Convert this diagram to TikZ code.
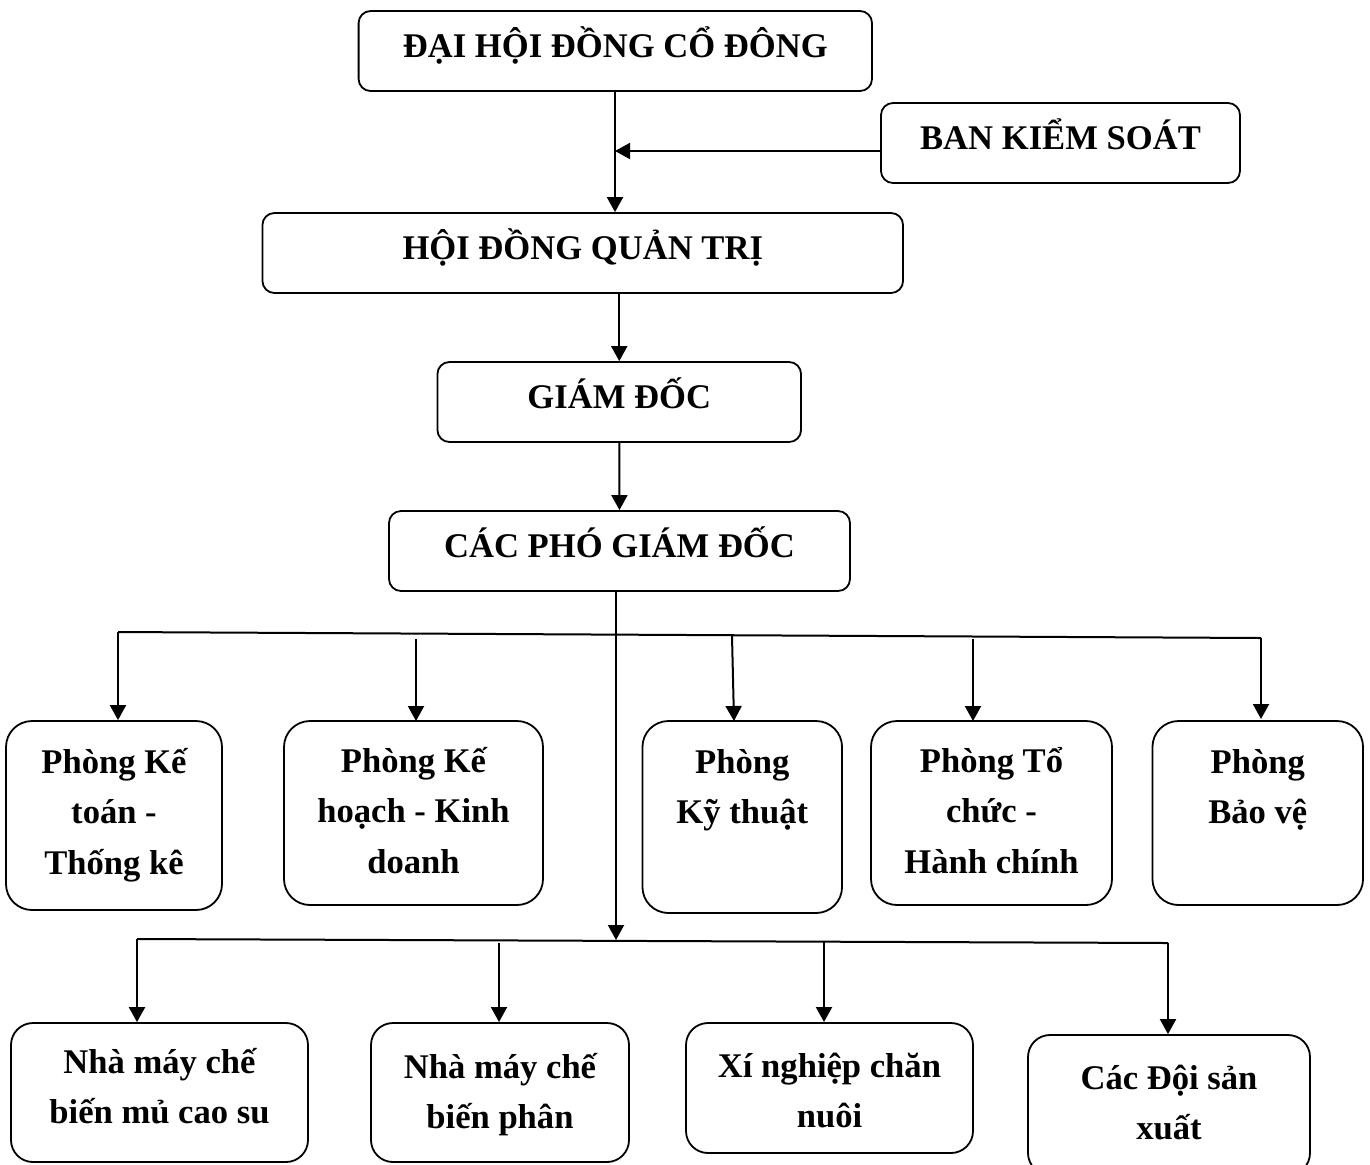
\documentclass[tikz,border=0pt]{standalone}
\usepackage{fontspec}
\setmainfont{Liberation Serif}
\usetikzlibrary{arrows.meta,positioning}

% struts that fix where the lines sit in a box
\newcommand\upstrut{\rule{0pt}{18pt}}
\newcommand\dnstrut[1]{\rule[-#1]{0pt}{#1}}

\begin{document}
\begin{tikzpicture}[x=0.5pt,y=-0.5pt,->,>={Triangle[length=7.5pt,width=8pt]},
                    line width=1pt]

  \tikzset{every node/.style={font=\fontsize{17.3}{25.25}\selectfont\bfseries,
                              inner sep=0pt,line width=0.9pt}}
  \tikzset{head/.style={draw,rounded corners=6pt,minimum height=40pt,
                        text height=11pt,text depth=4.5pt}}
  \tikzset{dept/.style={draw,rounded corners=13pt,align=center}}
  \tikzset{unit/.style={draw,rounded corners=11pt,align=center}}

  \useasboundingbox (0,0) rectangle (1370,1164);
  \clip (0,0) rectangle (1370,1164);

  % top of the chart
  \node[head,minimum width=256.7pt] (DHCD) at (615.3,51)   {ĐẠI HỘI ĐỒNG CỔ ĐÔNG};
  \node[head,minimum width=179.5pt] (BKS)  at (1060.5,143) {BAN KIỂM SOÁT};
  \node[head,minimum width=320.3pt] (HDQT) at (582.75,253) {HỘI ĐỒNG QUẢN TRỊ};
  \node[head,minimum width=181.8pt] (GD)   at (619.25,402) {GIÁM ĐỐC};
  \node[head,minimum width=230.5pt] (PGD)  at (619.5,551)  {CÁC PHÓ GIÁM ĐỐC};

  % phong ban
  \node[dept,minimum width=108pt,  minimum height=94.5pt] (PKT) at (114,815.5)
       {\upstrut Phòng Kế\\toán -\\Thống kê\dnstrut{10pt}};
  \node[dept,minimum width=129.5pt,minimum height=92pt]   (PKH) at (413.5,813)
       {\upstrut Phòng Kế\\hoạch - Kinh\\doanh\dnstrut{8.5pt}};
  \node[dept,minimum width=99.8pt, minimum height=96pt]   (PKY) at (742.25,817)
       {\upstrut Phòng\\Kỹ thuật\\\dnstrut{11.5pt}};
  \node[dept,minimum width=120.5pt,minimum height=92pt]   (PTC) at (991.5,813)
       {\upstrut Phòng Tổ\\chức -\\Hành chính\dnstrut{8.5pt}};
  \node[dept,minimum width=105.3pt,minimum height=92pt]   (PBV) at (1257.75,813)
       {\upstrut Phòng\\Bảo vệ\\\dnstrut{7.5pt}};

  % don vi san xuat
  \node[unit,minimum width=148.5pt,minimum height=69.5pt] (NMM)  at (159.5,1092.5)
       {\upstrut Nhà máy chế\\biến mủ cao su\dnstrut{12.25pt}};
  \node[unit,minimum width=129pt,  minimum height=69.5pt] (NMP)  at (500,1092.5)
       {\upstrut Nhà máy chế\\biến phân\dnstrut{7.25pt}};
  \node[unit,minimum width=143.5pt,minimum height=65pt]   (XNCN) at (829.5,1088)
       {\upstrut Xí nghiệp chăn\\nuôi\dnstrut{3.75pt}};
  \node[unit,minimum width=141pt,  minimum height=70pt]   (DSX)  at (1169,1105)
       {\upstrut Các Đội sản\\xuất\dnstrut{8.75pt}};

  \coordinate (kiem) at (615,151);
  \coordinate (busA) at (118,632);
  \coordinate (busB) at (1261,638);
  \coordinate (busC) at (137,939);
  \coordinate (busD) at (1168,943);

  \draw (DHCD.south -| kiem) -- (kiem |- HDQT.north);
  \draw (BKS.west |- kiem) -- (kiem);
  \draw (GD.north |- HDQT.south) -- (GD.north);
  \draw (GD.south) -- (PGD.north);
  \draw (PGD.south -| 616,0) -- (616,940);

  \draw[-] (busA) -- (busB);
  \draw (busA) -- (busA |- PKT.north);
  \draw (416,639) -- (416,721);
  \draw (732,636) -- (734,721);
  \draw (973,639) -- (973,721);
  \draw (busB) -- (1261,719);

  \draw[-] (busC) -- (busD);
  \draw (busC) -- (busC |- NMM.north);
  \draw (499,943) -- (499,1022);
  \draw (824,942) -- (824,1022);
  \draw (busD) -- (busD |- DSX.north);
\end{tikzpicture}
\end{document}
